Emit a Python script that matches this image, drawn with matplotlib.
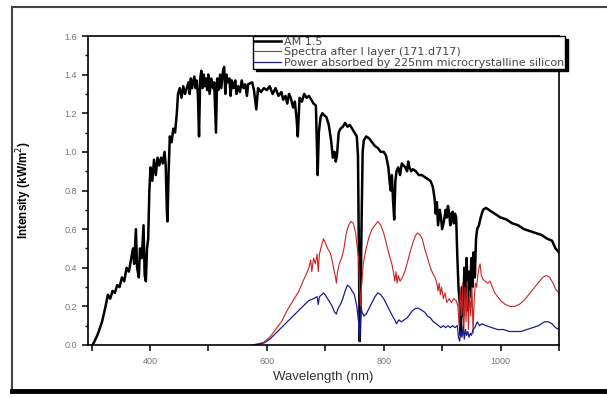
import numpy as np
import matplotlib
matplotlib.use("Agg")
import matplotlib.pyplot as plt
from matplotlib.lines import Line2D
from matplotlib.ticker import MultipleLocator

# AM 1.5 solar spectrum
am_wl = [302, 310, 318, 324, 328, 332, 336, 340, 344, 348, 352, 356, 360, 364, 368, 371,
         373, 376, 378, 381, 383, 386, 389, 391, 393, 395, 397, 399, 401, 404, 407, 410,
         413, 416, 419, 422, 425, 427, 429, 430, 432, 434, 437, 440, 443, 446, 448, 451,
         454, 457, 460, 463, 466, 468, 470, 472, 474, 476, 478, 480, 482, 484, 486, 488,
         490, 492, 494, 496, 498, 500, 502, 505, 508, 510, 513, 515, 517, 520, 522, 525,
         527, 529, 531, 533, 536, 538, 540, 543, 546, 548, 551, 554, 557, 560, 563, 566,
         568, 575, 578, 582, 585, 590, 595, 600, 605, 610, 615, 620, 625, 628, 632, 635,
         638, 641, 645, 648, 651, 653, 656, 660, 664, 668, 672, 676, 680, 684, 687, 689,
         692, 695, 698, 702, 706, 710, 713, 716, 718, 720, 723, 726, 730, 734, 738, 742,
         746, 750, 754, 756, 758, 759, 760, 762, 764, 766, 770, 775, 780, 785, 790, 795,
         800, 804, 808, 810, 812, 814, 816, 818, 820, 822, 825, 828, 831, 834, 837, 840,
         842, 844, 847, 850, 855, 860, 865, 870, 875, 880, 884, 887, 889, 891, 893, 896,
         898, 900, 903, 906, 908, 910, 912, 914, 916, 918, 920, 922, 924, 926, 928, 930,
         932, 934, 936, 938, 940, 942, 944, 946, 948, 950, 952, 954, 956, 958, 960, 963,
         966, 970, 975, 980, 985, 990, 995, 1000, 1010, 1020, 1030, 1040, 1050, 1060, 1070,
         1080, 1088, 1094, 1100]
am_int = [0.0, 0.05, 0.12, 0.2, 0.26, 0.24, 0.28, 0.27, 0.31, 0.3, 0.35, 0.33, 0.4, 0.38, 0.45, 0.5,
          0.42, 0.6, 0.4, 0.35, 0.5, 0.45, 0.62, 0.36, 0.33, 0.5, 0.55, 0.8, 0.92, 0.85, 0.96, 0.88,
          0.97, 0.93, 0.97, 0.94, 1.0, 0.93, 0.69, 0.64, 0.9, 1.08, 1.05, 1.12, 1.1, 1.2, 1.3, 1.33,
          1.28, 1.34, 1.3, 1.33, 1.36, 1.3, 1.38, 1.33, 1.36, 1.39, 1.33, 1.37, 1.3, 1.08, 1.38, 1.42,
          1.33, 1.4, 1.34, 1.38, 1.32, 1.4, 1.3, 1.38, 1.33, 1.36, 1.1, 1.38, 1.32, 1.4, 1.33, 1.42,
          1.44, 1.3, 1.4, 1.36, 1.38, 1.29, 1.37, 1.33, 1.37, 1.3, 1.34, 1.31, 1.37, 1.33, 1.35, 1.29,
          1.35, 1.36, 1.32, 1.22, 1.33, 1.31, 1.33, 1.32, 1.34, 1.3, 1.33, 1.29, 1.31, 1.27, 1.29, 1.25,
          1.3, 1.28, 1.23, 1.26, 1.17, 1.08, 1.28, 1.26, 1.3, 1.28, 1.29, 1.27, 1.25, 1.24, 0.88, 1.1,
          1.18, 1.2, 1.19, 1.18, 1.14, 1.06, 0.97, 1.0, 0.95, 0.98, 1.1, 1.12, 1.13, 1.15, 1.13, 1.14,
          1.12, 1.1, 1.08, 0.98, 0.3, 0.02, 0.15, 0.6, 1.0, 1.06, 1.08, 1.07, 1.05, 1.03, 1.02, 1.0,
          1.0, 0.98, 0.92, 0.85, 0.8, 0.88, 0.75, 0.65, 0.85, 0.9, 0.92, 0.88, 0.94, 0.93, 0.92, 0.9,
          0.95, 0.92, 0.9, 0.91, 0.9, 0.88, 0.88, 0.87, 0.86, 0.85, 0.82, 0.76, 0.68, 0.74, 0.62, 0.7,
          0.66, 0.6, 0.64, 0.7, 0.66, 0.72, 0.68, 0.62, 0.68, 0.69, 0.63, 0.68, 0.66, 0.46, 0.3, 0.22,
          0.05, 0.3, 0.15, 0.4, 0.2, 0.45, 0.18, 0.38, 0.25, 0.45, 0.3, 0.48, 0.35, 0.55, 0.6, 0.62,
          0.66, 0.7, 0.71, 0.7, 0.69, 0.68, 0.67, 0.66, 0.65, 0.63, 0.62, 0.6, 0.59, 0.58, 0.57,
          0.55, 0.54, 0.5, 0.48]

# spectrum after the first layer
sp_wl = [575, 585, 595, 605, 615, 625, 635, 645, 655, 662, 668, 672, 675, 677, 680, 683,
         686, 688, 690, 694, 697, 700, 704, 708, 711, 714, 717, 719, 721, 724, 728, 732,
         736, 740, 744, 748, 752, 755, 757, 760, 762, 765, 770, 775, 780, 785, 790, 795,
         800, 805, 810, 814, 817, 819, 821, 823, 825, 828, 832, 836, 840, 845, 850, 855,
         858, 862, 866, 870, 875, 880, 884, 888, 891, 893, 895, 897, 899, 902, 905, 908,
         912, 916, 920, 924, 927, 929, 931, 933, 935, 937, 939, 941, 943, 945, 947, 949,
         951, 953, 955, 957, 959, 961, 963, 965, 967, 970, 974, 978, 982, 986, 990, 995,
         1000, 1008, 1016, 1024, 1032, 1040, 1048, 1056, 1064, 1072, 1078, 1084, 1090, 1094, 1100]
sp_int = [0.0, 0.005, 0.015, 0.04, 0.08, 0.12, 0.18, 0.23, 0.28, 0.33, 0.37, 0.4, 0.44, 0.38, 0.45, 0.42,
          0.47, 0.38, 0.47, 0.52, 0.55, 0.53, 0.5, 0.48, 0.45, 0.4, 0.36, 0.32, 0.38, 0.42, 0.45, 0.5,
          0.58, 0.62, 0.64, 0.63, 0.58, 0.5, 0.45, 0.2, 0.3, 0.42, 0.5, 0.56, 0.6, 0.62, 0.64, 0.62,
          0.58, 0.52, 0.46, 0.42, 0.37, 0.33, 0.38, 0.32, 0.36, 0.33, 0.35, 0.38, 0.42, 0.48, 0.53, 0.57,
          0.58, 0.57, 0.55, 0.5, 0.45, 0.4, 0.37, 0.35, 0.32, 0.28, 0.32, 0.26, 0.3, 0.24, 0.27, 0.22,
          0.24, 0.22, 0.24, 0.23, 0.2, 0.1, 0.28, 0.15, 0.32, 0.05, 0.3, 0.12, 0.33, 0.08, 0.28, 0.15,
          0.3, 0.06, 0.25, 0.32, 0.3, 0.36, 0.4, 0.42, 0.36, 0.34, 0.33, 0.32, 0.33, 0.3, 0.27, 0.25,
          0.23, 0.21, 0.2, 0.2, 0.21, 0.23, 0.26, 0.29, 0.32, 0.35, 0.36, 0.35, 0.32, 0.29, 0.27]

# power absorbed by the microcrystalline silicon layer
ab_wl = [575, 585, 595, 605, 615, 625, 635, 645, 655, 665, 672, 680, 686, 688, 690, 694,
         697, 700, 704, 708, 712, 716, 719, 722, 726, 730, 734, 738, 742, 746, 750, 754,
         757, 759, 761, 763, 766, 770, 775, 780, 785, 790, 795, 800, 805, 810, 815, 819,
         822, 826, 830, 835, 840, 845, 850, 855, 860, 865, 870, 875, 880, 885, 890, 894,
         898, 902, 906, 910, 914, 918, 922, 926, 928, 930, 932, 934, 936, 938, 940, 942,
         944, 946, 948, 950, 953, 956, 960, 964, 968, 975, 985, 995, 1005, 1015, 1025, 1035,
         1045, 1055, 1065, 1075, 1082, 1088, 1094, 1100]
ab_int = [0.0, 0.005, 0.01, 0.03, 0.06, 0.09, 0.12, 0.15, 0.18, 0.21, 0.23, 0.24, 0.25, 0.21, 0.25, 0.26,
          0.27, 0.26, 0.24, 0.22, 0.2, 0.17, 0.16, 0.19, 0.21, 0.24, 0.28, 0.31, 0.3, 0.28, 0.26, 0.2,
          0.12, 0.02, 0.2, 0.17, 0.15, 0.16, 0.19, 0.22, 0.25, 0.27, 0.26, 0.24, 0.21, 0.18, 0.15, 0.13,
          0.11, 0.13, 0.12, 0.13, 0.14, 0.16, 0.18, 0.19, 0.19, 0.18, 0.17, 0.15, 0.14, 0.12, 0.11, 0.1,
          0.09, 0.1, 0.09, 0.1, 0.09, 0.1, 0.09, 0.1, 0.04, 0.02, 0.07, 0.04, 0.1, 0.03, 0.08, 0.05,
          0.07, 0.04, 0.06, 0.05, 0.08, 0.09, 0.12, 0.1, 0.11, 0.1, 0.09, 0.08, 0.08, 0.07, 0.07, 0.07,
          0.08, 0.09, 0.1, 0.12, 0.12, 0.11, 0.09, 0.08]

labels = ["AM 1.5",
          "Spectra after I layer (171.d717)",
          "Power absorbed by 225nm microcrystalline silicon"]

plt.rcParams['font.family'] = ['Liberation Sans', 'DejaVu Sans']

fig = plt.figure(figsize=(6.07, 3.97), dpi=100)
ax = fig.add_axes([88 / 607, 1 - 345 / 397, 471 / 607, 309 / 397])

ax.plot(am_wl, am_int, color='black', lw=1.8, label=labels[0])
ax.plot(sp_wl, sp_int, color='#c82424', lw=0.8, label=labels[1])
ax.plot(ab_wl, ab_int, color='#1c1c8c', lw=0.9, label=labels[2])

ax.set_xlim(294, 1100)
ax.set_ylim(0, 1.6)
ax.xaxis.set_major_locator(MultipleLocator(200))
ax.xaxis.set_minor_locator(MultipleLocator(100))
ax.yaxis.set_major_locator(MultipleLocator(0.2))
ax.yaxis.set_minor_locator(MultipleLocator(0.1))
ax.yaxis.set_major_formatter(matplotlib.ticker.FormatStrFormatter('%.1f'))

ax.tick_params(which='major', direction='out', length=4, width=1.1,
               labelsize=6.5, labelcolor='#777777', pad=4)
ax.tick_params(axis='x', which='minor', direction='out', length=4, width=1.1)
ax.tick_params(axis='y', which='minor', direction='out', length=2.5, width=1.0)
ax.tick_params(axis='x', pad=5)
for sp in ax.spines.values():
    sp.set_linewidth(1.2)

ax.set_xlabel("Wavelength (nm)", fontsize=9.5, color='#333333')
ax.set_ylabel("Intensity (kW/m$^2$)", fontsize=8.5, color='black', fontweight='bold')
ax.xaxis.set_label_coords(0.5, -0.085)
ax.yaxis.set_label_coords(-0.115, 0.5)

leg = ax.legend(loc='upper left', bbox_to_anchor=(253 / 607, 1 - 36 / 397),
                bbox_transform=fig.transFigure, frameon=True,
                prop={'family': 'DejaVu Sans', 'size': 8},
                fancybox=False, edgecolor='black', framealpha=1,
                shadow={'ox': 2, 'oy': -2, 'color': 'black', 'alpha': 1},
                borderpad=0.1, labelspacing=0.02, handlelength=2.4,
                handletextpad=0.25, borderaxespad=0)
leg.get_frame().set_linewidth(1.0)
for t in leg.get_texts():
    t.set_color('#444444')

# outer frame around the picture
fig.add_artist(Line2D([12 / 607, 1.0], [1 - 7 / 397, 1 - 7 / 397],
                      transform=fig.transFigure, color='#444444', lw=1.5))
fig.add_artist(Line2D([12 / 607, 12 / 607], [1 - 7 / 397, 1 - 391 / 397],
                      transform=fig.transFigure, color='#444444', lw=1.5))
fig.add_artist(Line2D([12 / 607, 1.0], [1 - 391 / 397, 1 - 391 / 397],
                      transform=fig.transFigure, color='black', lw=3.5))

fig.savefig("out.png", dpi=100)
